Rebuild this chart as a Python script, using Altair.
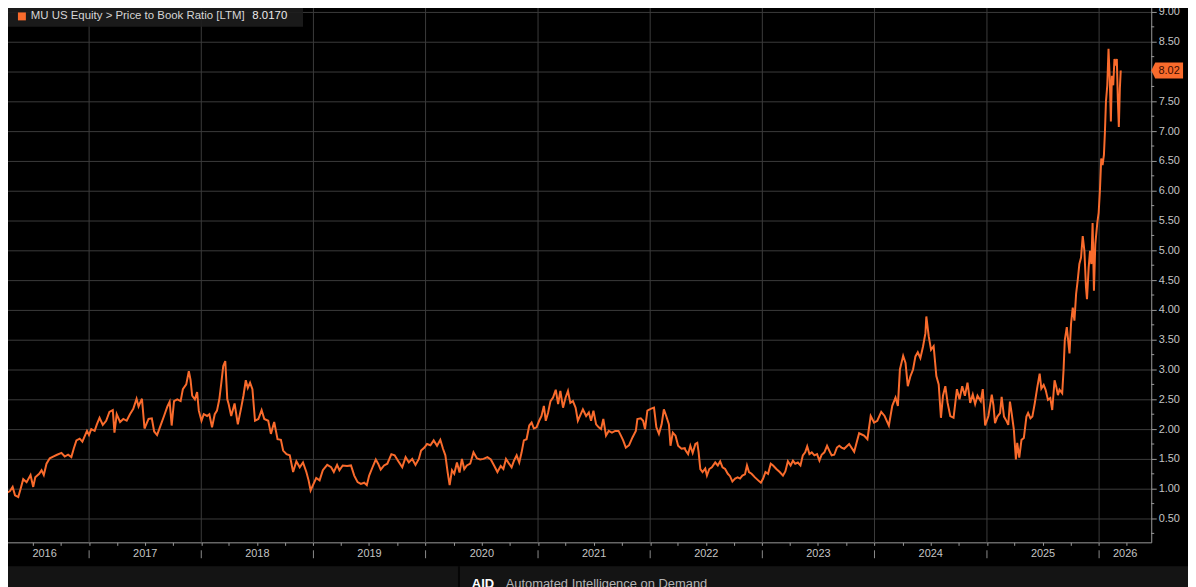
import altair as alt
import pandas as pd

# ---- data (decimal year, price-to-book ratio) ----
t_2016_2018 = [2016.208, 2016.237, 2016.267, 2016.296, 2016.320, 2016.341, 2016.370, 2016.391, 2016.414, 2016.444,
               2016.479, 2016.503, 2016.521, 2016.556, 2016.577, 2016.597, 2016.621, 2016.650, 2016.680, 2016.715,
               2016.754, 2016.783, 2016.813, 2016.842, 2016.863, 2016.887, 2016.916, 2016.940, 2016.960, 2016.981,
               2016.999, 2017.019, 2017.049, 2017.069, 2017.093, 2017.122, 2017.152, 2017.181, 2017.211, 2017.226,
               2017.246, 2017.276, 2017.305, 2017.335, 2017.364, 2017.394, 2017.423, 2017.441, 2017.471, 2017.494,
               2017.530, 2017.559, 2017.580, 2017.606, 2017.639, 2017.668, 2017.698, 2017.718, 2017.736, 2017.757,
               2017.786, 2017.816, 2017.836, 2017.866, 2017.889, 2017.904, 2017.919, 2017.943, 2017.963, 2017.978,
               2018.002, 2018.022, 2018.052, 2018.072, 2018.096, 2018.120, 2018.140, 2018.161, 2018.179, 2018.196,
               2018.214, 2018.232]
v_2016_2018 = [1.03, 0.94, 0.93, 0.96, 1.03, 0.89, 0.86, 1.00, 1.16, 1.11,
               1.23, 1.03, 1.19, 1.25, 1.31, 1.23, 1.42, 1.51, 1.54, 1.57,
               1.60, 1.54, 1.57, 1.53, 1.67, 1.81, 1.84, 1.79, 1.88, 1.97,
               1.90, 2.00, 1.97, 2.08, 2.19, 2.07, 2.14, 2.29, 2.32, 1.94,
               2.25, 2.12, 2.17, 2.14, 2.25, 2.34, 2.51, 2.38, 2.51, 2.01,
               2.17, 2.18, 1.96, 1.90, 2.07, 2.22, 2.38, 2.46, 2.06, 2.47,
               2.50, 2.47, 2.67, 2.75, 2.97, 2.83, 2.56, 2.50, 2.62, 2.31,
               2.14, 2.25, 2.22, 2.25, 2.03, 2.25, 2.31, 2.50, 2.78, 3.06,
               3.14, 2.50]

t_2018_2020 = [2018.244, 2018.267, 2018.297, 2018.326, 2018.356, 2018.376, 2018.397, 2018.415, 2018.435, 2018.456,
               2018.479, 2018.509, 2018.538, 2018.562, 2018.597, 2018.621, 2018.650, 2018.680, 2018.710, 2018.730,
               2018.760, 2018.789, 2018.819, 2018.848, 2018.878, 2018.907, 2018.937, 2018.957, 2018.975, 2018.996,
               2019.025, 2019.055, 2019.084, 2019.123, 2019.158, 2019.182, 2019.211, 2019.232, 2019.261, 2019.300,
               2019.335, 2019.364, 2019.394, 2019.423, 2019.453, 2019.476, 2019.497, 2019.527, 2019.556, 2019.577,
               2019.600, 2019.630, 2019.659, 2019.695, 2019.724, 2019.754, 2019.792, 2019.822, 2019.851, 2019.881,
               2019.910, 2019.940, 2019.960, 2019.990,
               2020.013, 2020.043, 2020.072, 2020.102, 2020.131, 2020.155, 2020.176, 2020.196, 2020.214, 2020.235,
               2020.255]
v_2018_2020 = [2.42, 2.22, 2.43, 2.08, 2.36, 2.56, 2.82, 2.69, 2.78, 2.67,
               2.14, 2.17, 2.32, 2.17, 2.14, 1.92, 2.12, 1.83, 1.82, 1.64,
               1.58, 1.56, 1.28, 1.46, 1.36, 1.44, 1.28, 1.14, 0.97, 1.06,
               1.18, 1.14, 1.31, 1.40, 1.36, 1.28, 1.40, 1.31, 1.39, 1.38,
               1.39, 1.22, 1.11, 1.08, 1.10, 1.06, 1.22, 1.36, 1.49, 1.42,
               1.32, 1.39, 1.42, 1.58, 1.56, 1.47, 1.36, 1.53, 1.44, 1.50,
               1.40, 1.50, 1.64, 1.69,
               1.75, 1.73, 1.81, 1.72, 1.82, 1.67, 1.56, 1.28, 1.06, 1.31,
               1.25]

t_2020_2022 = [2020.279, 2020.302, 2020.323, 2020.344, 2020.367, 2020.397, 2020.426, 2020.456, 2020.485, 2020.515,
               2020.550, 2020.580, 2020.609, 2020.639, 2020.668, 2020.692, 2020.715, 2020.739, 2020.765, 2020.786,
               2020.810, 2020.833, 2020.854, 2020.874, 2020.898, 2020.922, 2020.943, 2020.963, 2020.987,
               2021.010, 2021.031, 2021.052, 2021.069, 2021.090, 2021.111, 2021.134, 2021.158, 2021.179, 2021.199,
               2021.223, 2021.246, 2021.267, 2021.288, 2021.311, 2021.335, 2021.355, 2021.376, 2021.400, 2021.429,
               2021.453, 2021.473, 2021.494, 2021.518, 2021.541, 2021.562, 2021.582, 2021.606, 2021.630, 2021.659,
               2021.688, 2021.718, 2021.739, 2021.759, 2021.783, 2021.812, 2021.842, 2021.872, 2021.886, 2021.916,
               2021.937, 2021.954, 2021.975,
               2022.004, 2022.034, 2022.055, 2022.078, 2022.102, 2022.122, 2022.143, 2022.167, 2022.181, 2022.202,
               2022.226, 2022.249, 2022.279, 2022.308]
v_2020_2022 = [1.44, 1.27, 1.50, 1.33, 1.39, 1.42, 1.61, 1.51, 1.49, 1.50,
               1.53, 1.49, 1.39, 1.28, 1.38, 1.33, 1.50, 1.43, 1.36, 1.47,
               1.56, 1.44, 1.61, 1.81, 1.83, 2.06, 2.11, 2.01, 2.03,
               2.14, 2.22, 2.39, 2.14, 2.28, 2.47, 2.53, 2.66, 2.42, 2.64,
               2.36, 2.53, 2.64, 2.44, 2.47, 2.36, 2.14, 2.23, 2.33, 2.22,
               2.28, 2.14, 2.31, 2.08, 2.03, 2.00, 2.17, 1.89, 1.97, 1.94,
               1.97, 1.97, 1.89, 1.81, 1.69, 1.73, 1.86, 1.97, 2.17, 2.18,
               2.14, 2.00, 2.31,
               2.34, 2.36, 2.03, 1.92, 2.08, 2.33, 2.22, 2.08, 1.72, 1.94,
               1.89, 1.72, 1.67, 1.68]

t_2022_2023 = [2022.314, 2022.338, 2022.358, 2022.379, 2022.403, 2022.420, 2022.432, 2022.447, 2022.467, 2022.491,
               2022.506, 2022.527, 2022.550, 2022.580, 2022.603, 2022.624, 2022.645, 2022.668, 2022.692, 2022.712,
               2022.733, 2022.757, 2022.780, 2022.801, 2022.822, 2022.845, 2022.863, 2022.881, 2022.904, 2022.934,
               2022.963, 2022.987,
               2023.007, 2023.028, 2023.051, 2023.075, 2023.096, 2023.125, 2023.155, 2023.184,
               2023.205, 2023.228, 2023.252, 2023.273, 2023.293, 2023.317, 2023.340, 2023.361, 2023.382, 2023.400,
               2023.420, 2023.441, 2023.464, 2023.488, 2023.509, 2023.529, 2023.553, 2023.577, 2023.597, 2023.618,
               2023.641, 2023.665, 2023.686, 2023.706]
v_2022_2023 = [1.65, 1.58, 1.72, 1.60, 1.75, 1.77, 1.61, 1.33, 1.28, 1.34,
               1.22, 1.33, 1.36, 1.44, 1.39, 1.46, 1.36, 1.33, 1.25, 1.21,
               1.12, 1.17, 1.19, 1.17, 1.22, 1.24, 1.39, 1.28, 1.25, 1.19,
               1.14, 1.10,
               1.17, 1.28, 1.25, 1.42, 1.39, 1.33, 1.28, 1.22,
               1.29, 1.46, 1.39, 1.47, 1.42, 1.44, 1.39, 1.56, 1.61, 1.71,
               1.58, 1.61, 1.56, 1.58, 1.47, 1.57, 1.61, 1.72, 1.64, 1.56,
               1.57, 1.69, 1.72, 1.69]

t_2023_2025 = [2023.730, 2023.774, 2023.819, 2023.863, 2023.907, 2023.937, 2023.966, 2023.996,
               2024.025, 2024.060, 2024.090, 2024.128, 2024.158, 2024.187, 2024.208, 2024.226, 2024.255, 2024.276,
               2024.296, 2024.320, 2024.343, 2024.364, 2024.385, 2024.408, 2024.432, 2024.453, 2024.461, 2024.482,
               2024.503, 2024.526, 2024.550, 2024.571, 2024.591, 2024.609, 2024.630, 2024.650, 2024.674, 2024.703,
               2024.733, 2024.756, 2024.780, 2024.804, 2024.827, 2024.851, 2024.874, 2024.895, 2024.916, 2024.945,
               2024.963, 2024.984,
               2025.013, 2025.043]
v_2023_2025 = [1.67, 1.75, 1.62, 1.93, 1.89, 1.83, 2.22, 2.11,
               2.14, 2.29, 2.22, 2.06, 2.39, 2.53, 2.39, 3.00, 3.23, 3.11,
               2.72, 2.89, 3.00, 3.22, 3.29, 3.19, 3.39, 3.61, 3.89, 3.56,
               3.33, 3.39, 2.89, 2.75, 2.19, 2.56, 2.72, 2.44, 2.22, 2.19,
               2.67, 2.50, 2.72, 2.56, 2.78, 2.44, 2.58, 2.42, 2.56, 2.47,
               2.67, 2.06,
               2.22, 2.58]

t_2025_2026 = [2025.058, 2025.072, 2025.093, 2025.117, 2025.131, 2025.152, 2025.176, 2025.190, 2025.205, 2025.220,
               2025.240, 2025.258, 2025.270, 2025.288, 2025.308, 2025.329, 2025.352, 2025.367, 2025.388, 2025.405,
               2025.426, 2025.447, 2025.470, 2025.485, 2025.506, 2025.523, 2025.544, 2025.565, 2025.582, 2025.603,
               2025.618, 2025.633, 2025.647, 2025.671, 2025.683, 2025.694, 2025.712, 2025.736, 2025.750, 2025.765,
               2025.780, 2025.795, 2025.809, 2025.824, 2025.839, 2025.854, 2025.869, 2025.883, 2025.892, 2025.907,
               2025.919, 2025.931, 2025.942, 2025.954, 2025.966, 2025.984, 2025.996,
               2026.007, 2026.019, 2026.031, 2026.043, 2026.052, 2026.061, 2026.073, 2026.084, 2026.096, 2026.105,
               2026.114, 2026.126, 2026.137, 2026.149, 2026.158, 2026.167, 2026.176, 2026.185, 2026.193]
v_2025_2026 = [2.40, 2.10, 2.21, 2.27, 2.54, 2.21, 2.13, 2.07, 2.46, 2.27,
               1.99, 1.49, 1.77, 1.52, 1.82, 1.85, 2.21, 2.27, 2.18, 2.21,
               2.43, 2.68, 2.93, 2.68, 2.74, 2.66, 2.49, 2.52, 2.32, 2.82,
               2.71, 2.57, 2.66, 2.60, 2.99, 3.49, 3.71, 3.27, 3.77, 4.04,
               3.82, 4.27, 4.49, 4.77, 4.88, 5.24, 4.99, 4.38, 4.18, 4.71,
               4.99, 4.77, 5.46, 4.32, 5.10, 5.46, 5.63,
               5.99, 6.54, 6.43, 6.60, 6.99, 7.49, 7.77, 8.38, 7.82, 7.16,
               7.93, 7.77, 8.21, 8.10, 8.21, 7.54, 7.07, 7.71, 8.017]

y_ticks = [0.5, 1.0, 1.5, 2.0, 2.5, 3.0, 3.5, 4.0, 4.5, 5.0, 5.5, 6.0, 6.5, 7.0, 7.5, 8.0, 8.5, 9.0]
y_minor = [0.25, 0.75, 1.25, 1.75, 2.25, 2.75, 3.25, 3.75, 4.25, 4.75, 5.25, 5.75, 6.25, 6.75, 7.25,
           7.75, 8.25, 8.75]
year_labels = [2016, 2017, 2018, 2019, 2020, 2021, 2022, 2023, 2024, 2025, 2026]
x_start, x_end = 2016.208, 2026.465
y_lo, y_hi = 0.1, 9.1667
legend_title = "MU US Equity > Price to Book Ratio [LTM]"
last_value = 8.0170

ORANGE = "#f96b2c"
GRID = "#3b3b3b"
AXIS = "#9a9a9a"
LABEL = "#c4c4c4"
FONT = "Liberation Sans"


def to_ts(t):
    y = int(t)
    a = pd.Timestamp(year=y, month=1, day=1)
    b = pd.Timestamp(year=y + 1, month=1, day=1)
    return a + (b - a) * (t - y)


def iso(ts):
    return ts.strftime("%Y-%m-%dT%H:%M:%S")


def dt(ts):
    return alt.DateTime(year=ts.year, month=ts.month, date=ts.day, hours=ts.hour, minutes=ts.minute)


t_all = t_2016_2018 + t_2018_2020 + t_2020_2022 + t_2022_2023 + t_2023_2025 + t_2025_2026
v_all = v_2016_2018 + v_2018_2020 + v_2020_2022 + v_2022_2023 + v_2023_2025 + v_2025_2026
df = pd.DataFrame({"date": [iso(to_ts(t)) for t in t_all], "pb": v_all})

d0, d1 = to_ts(x_start), to_ts(x_end)
xscale = alt.Scale(domain=[dt(d0), dt(d1)])
yscale = alt.Scale(domain=[y_lo, y_hi], nice=False, zero=False)

boundaries = pd.DataFrame({"date": [f"{y}-01-01T00:00:00" for y in year_labels[1:]]})
quarters = []
for y in year_labels:
    for m in (1, 4, 7, 10):
        ts = pd.Timestamp(year=y, month=m, day=1)
        if d0 <= ts <= d1:
            quarters.append(alt.DateTime(year=y, month=m, date=1))

lab_rows = []
for y in year_labels:
    lo = max(pd.Timestamp(year=y, month=1, day=1), d0)
    hi = min(pd.Timestamp(year=y + 1, month=1, day=1), d1)
    lab_rows.append({"mid": iso(lo + (hi - lo) / 2), "label": str(y)})
labels_df = pd.DataFrame(lab_rows)

one = pd.DataFrame({"k": [0]})

# one shared axis definition per channel, repeated on every layer that uses the scale
x_axis = alt.Axis(values=quarters, labels=False, grid=False, domain=True, domainColor=AXIS,
                  tickColor=AXIS, tickSize=3, ticks=True, title=None)
y_axis = alt.Axis(orient="right", values=y_ticks, format=".2f", grid=True, gridColor=GRID,
                  domain=True, domainColor=AXIS, tickColor=AXIS, tickSize=5, labelColor=LABEL,
                  labelFont=FONT, labelFontSize=11, labelPadding=2, title=None)


def X(field):
    return alt.X(field, scale=xscale, axis=x_axis, title=None)


def Y(field):
    return alt.Y(field, scale=yscale, axis=y_axis, title=None)


# vertical year gridlines
vgrid = alt.Chart(boundaries).mark_rule(color=GRID, strokeWidth=1).encode(x=X("date:T"))

# year separators below the axis
seps = alt.Chart(boundaries).mark_rule(color="#8a8a8a", strokeWidth=1).encode(
    x=X("date:T"), y=alt.value(552), y2=alt.value(560))

ylabels = alt.Chart(labels_df).mark_text(font=FONT, fontSize=11, color=LABEL, align="center",
                                         baseline="middle").encode(
    x=X("mid:T"), y=alt.value(556), text="label:N")

minor = alt.Chart(pd.DataFrame({"v": y_minor})).mark_rule(color=AXIS).encode(
    y=Y("v:Q"), x=alt.value(1159), x2=alt.value(1162))

line = alt.Chart(df).mark_line(color=ORANGE, strokeWidth=2, clip=True).encode(
    x=X("date:T"), y=Y("pb:Q"))

tag_df = pd.DataFrame({"pb": [last_value], "label": [f"{last_value:.2f}"]})
tag = alt.Chart(tag_df).mark_point(
    shape="M-1,0L-0.75,-0.5L1,-0.5L1,0.5L-0.75,0.5Z", filled=True, size=1024, color=ORANGE,
    opacity=1).encode(y=Y("pb:Q"), x=alt.value(1175))
tag_text = alt.Chart(tag_df).mark_text(font=FONT, fontSize=11, color="#3a0c00", align="center",
                                       baseline="middle").encode(
    y=Y("pb:Q"), x=alt.value(1177), text="label:N")

# bottom strip (its text is cut by the window edge, as in the reference)
strip = alt.Chart(one).mark_rect(color="#141414").encode(
    x=alt.value(0), x2=alt.value(1196), y=alt.value(568), y2=alt.value(590))
divider = alt.Chart(one).mark_rule(color="#050505", strokeWidth=2).encode(
    x=alt.value(462), y=alt.value(568), y2=alt.value(590))
aid = alt.Chart(pd.DataFrame({"t": ["AID"]})).mark_text(
    font=FONT, fontSize=13, fontWeight="bold", color="#ffffff", align="left",
    baseline="alphabetic").encode(x=alt.value(475), y=alt.value(590), text="t:N")
aid2 = alt.Chart(pd.DataFrame({"t": ["Automated Intelligence on Demand"]})).mark_text(
    font=FONT, fontSize=13, color="#b4b4b4", align="left",
    baseline="alphabetic").encode(x=alt.value(509), y=alt.value(590), text="t:N")

# legend box
lbox = alt.Chart(one).mark_rect(color="#1d1d1d", opacity=0.9).encode(
    x=alt.value(0), x2=alt.value(305), y=alt.value(0), y2=alt.value(25))
lsq = alt.Chart(one).mark_rect(color=ORANGE).encode(
    x=alt.value(18), x2=alt.value(26), y=alt.value(10.5), y2=alt.value(18.5))
ltxt = alt.Chart(pd.DataFrame({"t": [legend_title]})).mark_text(
    font=FONT, fontSize=11.5, color="#d6d6d6", align="left", baseline="middle").encode(
    x=alt.value(31), y=alt.value(14), text="t:N")
lval = alt.Chart(pd.DataFrame({"t": [f"{last_value:.4f}"]})).mark_text(
    font=FONT, fontSize=11.5, color="#ececec", align="left", baseline="middle").encode(
    x=alt.value(254), y=alt.value(14), text="t:N")

# the page adds an 8px margin; a negative left/top padding puts the plot origin at the
# window's corner so every element lands where it is in the reference
chart = alt.layer(
    vgrid, seps, ylabels, minor, line, tag, tag_text, strip, divider, aid, aid2, lbox, lsq, ltxt, lval
).properties(
    width=1159, height=544,
    autosize=alt.AutoSizeParams(type="none"),
    padding={"left": -8, "top": -8, "right": 37, "bottom": 43},
).configure(background="#000000").configure_view(strokeWidth=0)

chart.save("out.html", embed_options={"renderer": "svg", "actions": False})
